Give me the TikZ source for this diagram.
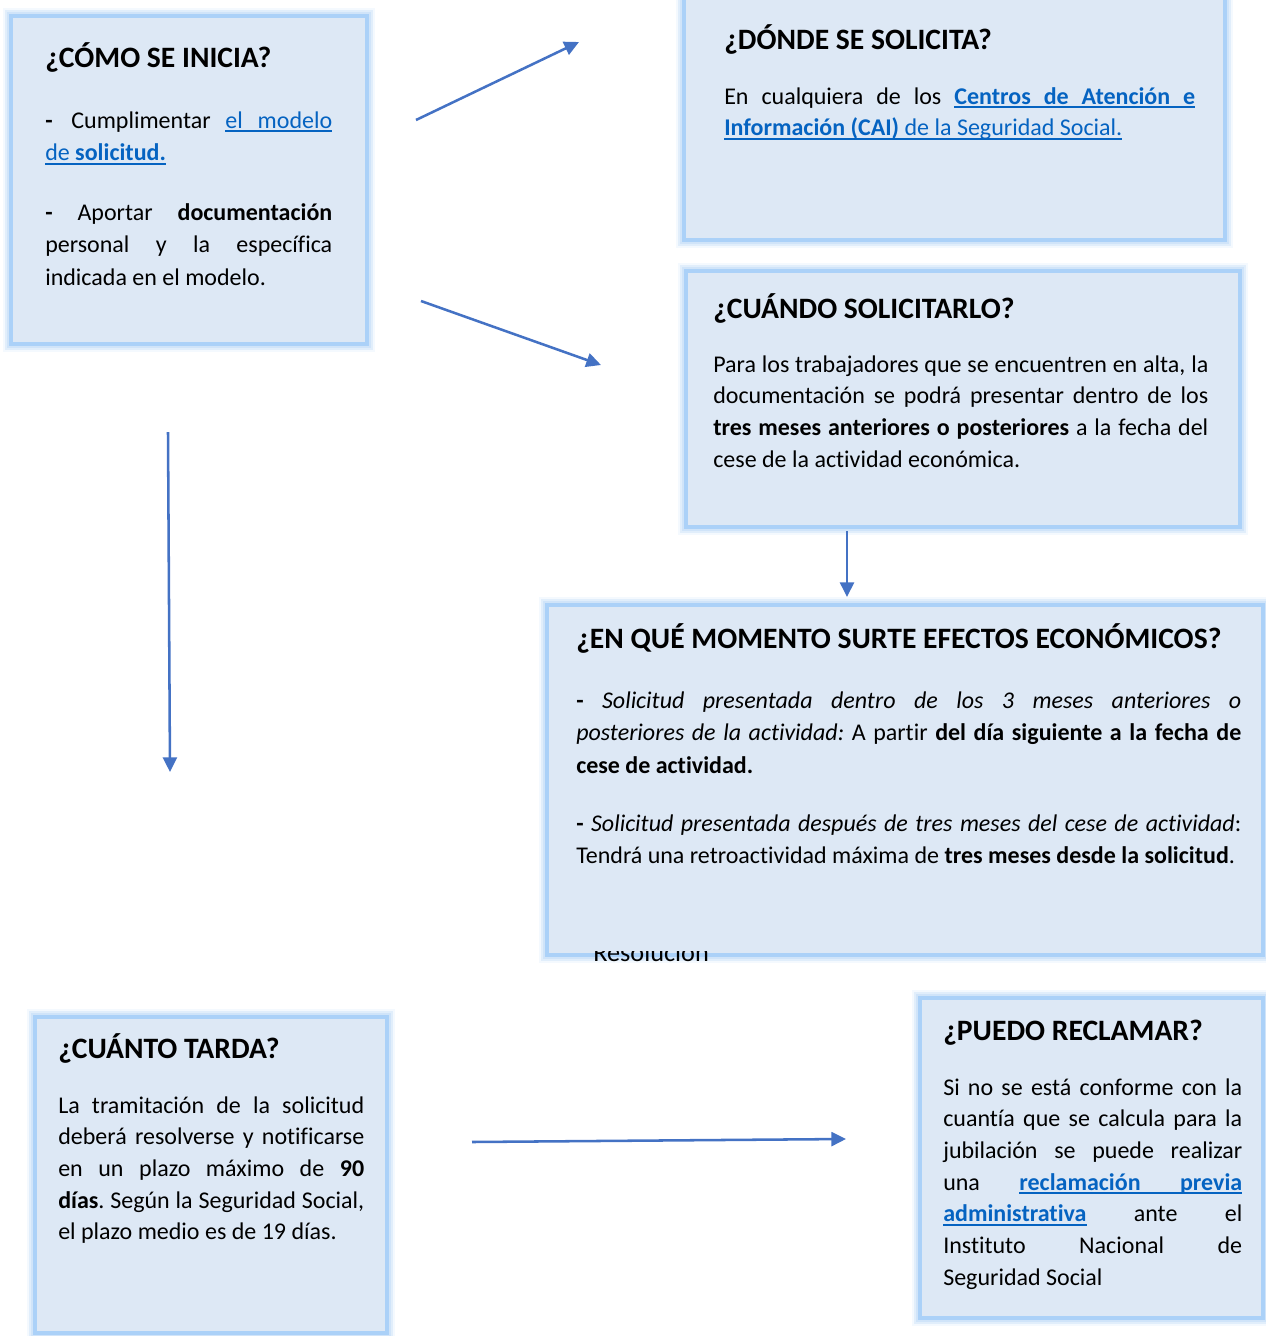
\documentclass[tikz,border=0pt]{standalone}
\usepackage{fontspec}
\setmainfont{Carlito}[Ligatures=NoCommon]
\usetikzlibrary{arrows.meta,fit}
\definecolor{boxfill}{HTML}{DDE8F5}
\definecolor{boxband}{HTML}{ABD1F8}
\definecolor{boxglow}{HTML}{C9E0F8}
\definecolor{arrowblue}{HTML}{4472C4}
\definecolor{linkblue}{HTML}{0563C1}
% manual underline: word and stretchable underlined space
\newcommand{\ulw}[1]{\setbox0\hbox{#1}\rlap{\rule[-3pt]{\wd0}{1.4pt}}\box0}
\newcommand{\ulsp}{\leaders\hrule height -1.6pt depth 3pt\hskip\fontdimen2\font plus\fontdimen3\font minus\fontdimen4\font\relax}
\tolerance=10000
\hbadness=10000
\hfuzz=20pt
\frenchspacing
\begin{document}
\begin{tikzpicture}[x=0.75pt,y=-0.75pt,
  infobox/.style={inner sep=0pt, fill=boxfill,
    preaction={draw=boxglow, line width=12pt, draw opacity=0.2},
    preaction={draw=boxglow, line width=8.5pt, draw opacity=0.45},
    preaction={draw=boxglow, line width=6pt, draw opacity=0.7},
    draw=boxband, line width=3.6pt},
  title/.style={inner sep=0pt, anchor=base west, font=\fontsize{22.2pt}{26pt}\selectfont\bfseries},
  body/.style={inner sep=0pt, anchor=base west, align=justify, text width=#1,
    font=\fontsize{18pt}{23.8pt}\selectfont},
  bodyw/.style={inner sep=0pt, anchor=base west, align=justify, text width=#1,
    font=\fontsize{18pt}{24.4pt}\selectfont},
  conn/.style={draw=arrowblue, line width=1.9pt, -{Triangle[length=11pt,width=10.5pt]}}]
\useasboundingbox (0,0) rectangle (1265,1336);

% boxes
\node[infobox, fit={(11,16) (367,344)}] (b1) {};
\node[infobox, fit={(684,-20) (1225,240)}] (b2) {};
\node[infobox, fit={(686,271) (1240,527)}] (b3) {};
\node[infobox, fit={(547,605) (1263,955)}] (b4) {};
\node[infobox, fit={(35,1017) (387,1333)}] (b5) {};
\node[infobox, fit={(920,998) (1263,1318)}] (b6) {};

% hidden label under box 4
\begin{scope}
\clip (540,951) rectangle (760,975);
\node[inner sep=0pt, anchor=base west, font=\fontsize{19.7pt}{22pt}\selectfont] (res) at (593,961) {Resolución};
\end{scope}

% box 1
\node[title] (t1) at (45,67) {¿CÓMO SE INICIA?};
\node[bodyw=215.25pt] (p1a) at (45,128) {\textbf{-}\hspace{3pt} Cumplimentar {\color{linkblue}\ulw{el}\ulsp\ulw{modelo}}\linebreak {\color{linkblue}\ulw{de}\ulsp\bfseries\ulw{solicitud.}}};
\node[bodyw=215.25pt] (p1b) at (45,220) {\textbf{-} Aportar \textbf{documentación}\linebreak personal y la específica\linebreak indicada en el modelo.};

% box 2
\node[title] (t2) at (724,49) {¿DÓNDE SE SOLICITA?};
\node[body=353.25pt] (p2) at (724,104) {En cualquiera de los {\color{linkblue}\bfseries\ulw{Centros}\ulsp\ulw{de}\ulsp\ulw{Atención}\ulsp\ulw{e}}\linebreak {\color{linkblue}\bfseries\ulw{Información}\ulsp\ulw{(CAI)}\ulsp\mdseries\ulw{de}\ulsp\ulw{la}\ulsp\ulw{Seguridad}\ulsp\ulw{Social.}}};

% box 3
\node[title] (t3) at (713,318) {¿CUÁNDO SOLICITARLO?};
\node[body=371.25pt] (p3) at (713,372) {Para los trabajadores que se encuentren en alta, la\linebreak documentación se podrá presentar dentro de los\linebreak \textbf{tres meses anteriores o posteriores} a la fecha del\linebreak cese de la actividad económica.};

% box 4
\node[title] (t4) at (576,648) {¿EN QUÉ MOMENTO SURTE EFECTOS ECONÓMICOS?};
\node[bodyw=498.75pt] (p4a) at (576,708) {\textbf{-} \textit{Solicitud presentada dentro de los 3 meses anteriores o}\linebreak \textit{posteriores de la actividad:} A partir \textbf{del día siguiente a la fecha de}\linebreak \textbf{cese de actividad.}};
\node[bodyw=498.75pt] (p4b) at (576,831) {\textbf{-} \textit{Solicitud presentada después de tres meses del cese de actividad}:\linebreak Tendrá una retroactividad máxima de \textbf{tres meses desde la solicitud}.};

% box 5
\node[title] (t5) at (58,1058) {¿CUÁNTO TARDA?};
\node[body=229.5pt] (p5) at (58,1113) {La tramitación de la solicitud\linebreak deberá resolverse y notificarse\linebreak en un plazo máximo de \textbf{90}\linebreak \textbf{días}. Según la Seguridad Social,\linebreak el plazo medio es de 19 días.};

% box 6
\node[title] (t6) at (943,1040) {¿PUEDO RECLAMAR?};
\node[body=224.25pt] (p6) at (943,1095) {Si no se está conforme con la\linebreak cuantía que se calcula para la\linebreak jubilación se puede realizar\linebreak una {\color{linkblue}\bfseries\ulw{reclamación}\ulsp\ulw{previa}}\linebreak {\color{linkblue}\bfseries\ulw{administrativa}} ante el\linebreak Instituto Nacional de\linebreak Seguridad Social};

% connectors
\coordinate (a1s) at (416,120);
\coordinate (a1e) at (579,42);
\coordinate (a2s) at (421,301);
\coordinate (a2e) at (601,365);
\coordinate (a3s) at (168,432);
\coordinate (a3e) at (170,772);
\coordinate (a4s) at (847,531);
\coordinate (a4e) at (847,597);
\coordinate (a5s) at (472,1142);
\coordinate (a5e) at (846,1139);
\draw[conn] (a1s) -- (a1e);
\draw[conn] (a2s) -- (a2e);
\draw[conn] (a3s) -- (a3e);
\draw[conn] (a4s) -- (a4e);
\draw[conn] (a5s) -- (a5e);
\end{tikzpicture}
\end{document}
